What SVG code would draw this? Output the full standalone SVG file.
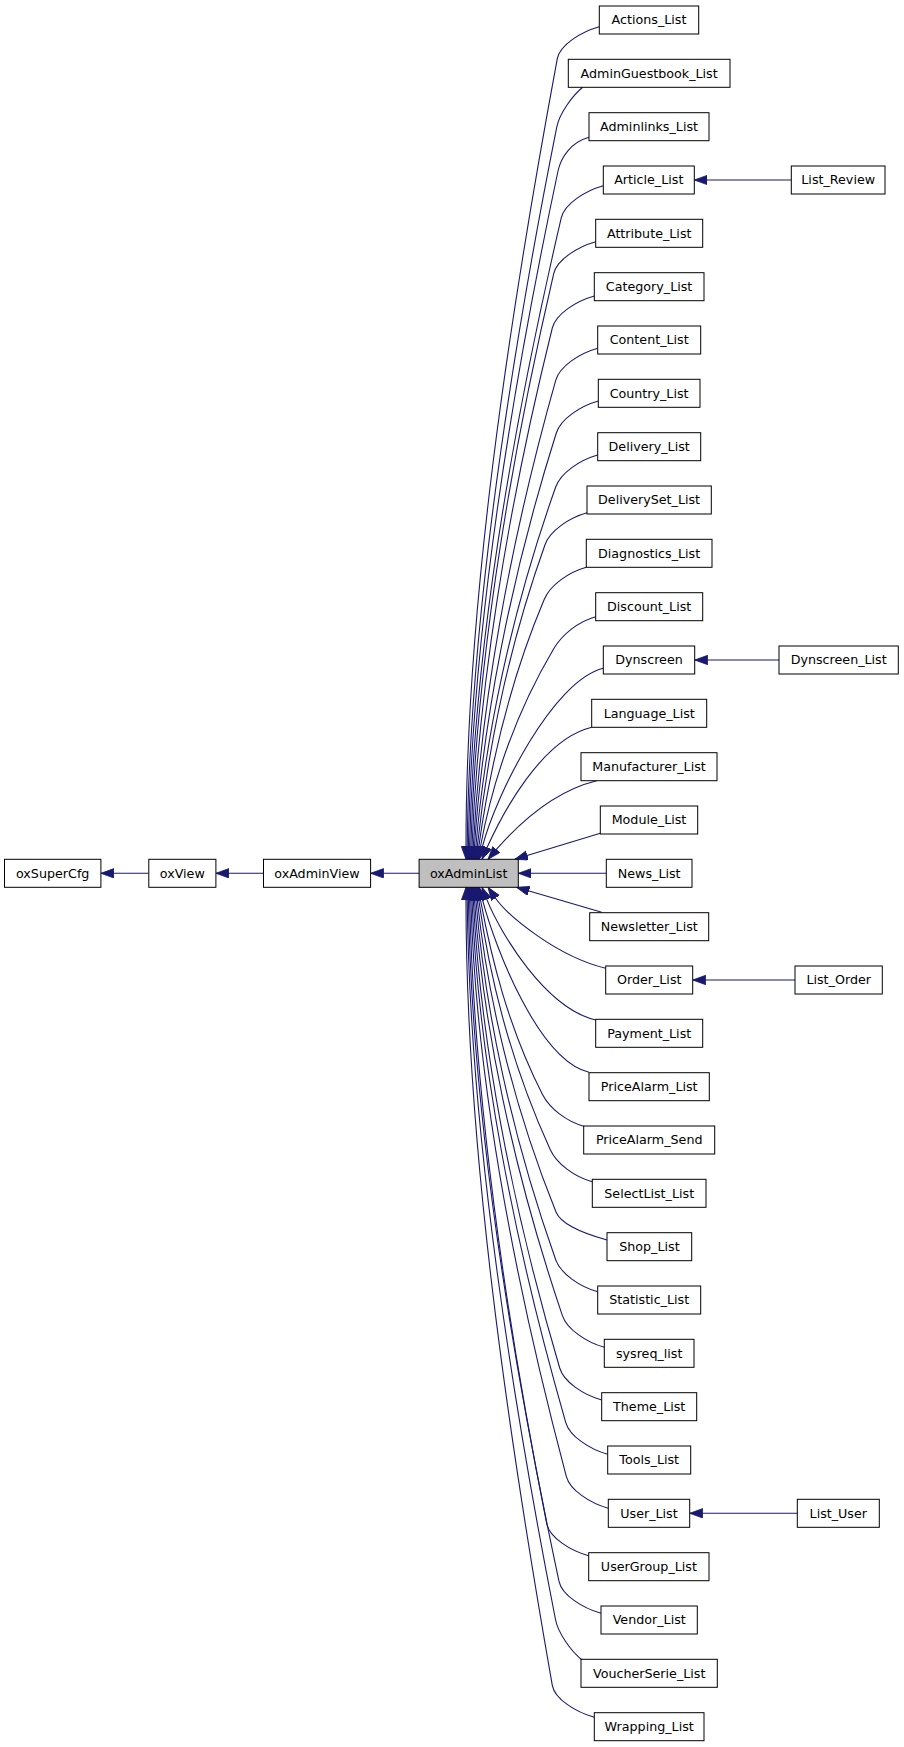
<svg xmlns="http://www.w3.org/2000/svg" width="904" height="1747" viewBox="0 0 904 1747">
<style>
.n rect{fill:#fff;stroke:#000;stroke-width:1}
#oxAdminList rect{fill:#bfbfbf}
.n text{font-family:"DejaVu Sans","Liberation Sans",sans-serif;font-size:12.7px;text-anchor:middle;fill:#000}
.e path{fill:none;stroke:#191970;stroke-width:1.1;marker-end:url(#ah)}
</style>
<defs>
<marker id="ah" markerUnits="userSpaceOnUse" markerWidth="14" markerHeight="11" refX="13" refY="4.7" orient="auto">
<path d="M0,0 L13,4.7 L0,9.4 z" fill="#191970" stroke="#191970" stroke-width="0.8"/>
</marker>
</defs>
<rect width="904" height="1747" fill="#fff"/>
<g id="edges" class="e">
<path d="M148.8,873.3 L100.9,873.3"/>
<path d="M263.5,873.3 L215.9,873.3"/>
<path d="M419.1,873.3 L370.6,873.3"/>
<path d="M791.3,180 L694.3,180"/>
<path d="M779,660 L694.7,660"/>
<path d="M795,980 L692.7,980"/>
<path d="M797.3,1513.3 L689.7,1513.3"/>
<path d="M599.3,26.7 C581.3,31.7 559.9,44.7 557.3,58.7 C506.2,334.4 466,610 466,846.3 L466,859.3"/>
<path d="M582.7,87.3 C572.7,95.3 559.5,113.3 556.7,127.3 C506.6,379 469.4,630.6 467.2,846.3 L467.1,859.3"/>
<path d="M589,137.3 C571,142.3 561,157 558,171 C507.9,407.4 471.6,643.7 468.4,846.3 L468.2,859.3"/>
<path d="M603.3,185.7 C585.3,190.7 564.6,203.7 561.3,217.7 C510,437.7 473.7,657.7 469.6,846.3 L469.3,859.3"/>
<path d="M595.7,241.7 C577.7,246.7 556.9,259.7 553.7,273.7 C507.3,474.1 476,674.5 470.8,846.3 L470.4,859.3"/>
<path d="M594.3,296 C576.3,301 555.8,314 552.3,328 C507.3,509.4 478.2,690.8 472,846.3 L471.5,859.3"/>
<path d="M597.7,348.3 C579.7,353.3 559.7,366.3 555.7,380.3 C509.6,543.4 480.5,706.7 473.3,846.3 L472.6,859.3"/>
<path d="M598.3,401 C580.3,406 560.7,419 556.3,433 C510.5,577.7 482.6,722.6 474.5,846.3 L473.7,859.3"/>
<path d="M597.7,455 C579.7,460 560.7,473 555.7,487 C511,612.8 484.9,738.9 475.9,846.3 L474.8,859.3"/>
<path d="M587,512.7 C569,517.7 550,530.7 545,544.7 C507.1,650.3 487.1,756.4 477.3,846.4 L475.9,859.3"/>
<path d="M586.3,567.3 C568.3,572.3 550.2,585.3 544.3,599.3 C507.6,685.8 489.2,773 478.8,846.4 L477,859.3"/>
<path d="M595.7,616.7 C577.7,621.7 562,634.7 553.7,648.7 C512.7,717.9 491.3,788.2 480.5,846.5 L478.1,859.3"/>
<path d="M603.3,668.3 C553.3,680.3 495.6,794.9 482.4,846.7 L479.2,859.3"/>
<path d="M591.7,727.3 C541.3,739.3 502.1,814.3 487.3,847.1 L482,859.3"/>
<path d="M596.7,780.7 C547.7,792.7 509.8,834.1 496.6,849.2 L488,859.3"/>
<path d="M600.3,833.3 L514.8,859.3"/>
<path d="M606.3,873.3 L518.3,873.3"/>
<path d="M601.7,912.3 L516.4,887.3"/>
<path d="M605.7,968.3 C556.3,956.3 507.4,915.3 495.4,898 L488,887.3"/>
<path d="M595.7,1020 C545.3,1008 500.2,933 486.8,899.4 L482,887.3"/>
<path d="M589,1072.3 C539,1060.3 495.8,949.9 482.5,899.9 L479.2,887.3"/>
<path d="M584.5,1126.5 C566.5,1121.5 549.6,1108.5 542.5,1094.5 C507.8,1026.5 491.3,957.4 480.5,900.1 L478.1,887.3"/>
<path d="M592.3,1181.7 C574.3,1176.7 556.7,1163.7 550.3,1149.7 C510.3,1062.4 489.2,974.4 478.8,900.2 L477,887.3"/>
<path d="M607,1240 C589,1235 561.7,1226 556,1212 C512,1103 487,993 477.3,900.2 L475.9,887.3"/>
<path d="M597.7,1291.7 C579.7,1286.7 560.7,1273.7 555.7,1259.7 C511,1133.9 484.8,1007.7 475.9,900.3 L474.8,887.3"/>
<path d="M604.3,1347.3 C586.3,1342.3 567,1329.3 562.3,1315.3 C513.1,1170 482.6,1024.5 474.5,900.3 L473.7,887.3"/>
<path d="M601.7,1400 C583.7,1395 563.8,1382 559.7,1368 C511.3,1204.3 480.4,1040.4 473.3,900.3 L472.6,887.3"/>
<path d="M607.7,1454.3 C589.7,1449.3 569.7,1436.3 565.7,1422.3 C513.2,1239.6 478.2,1056.8 472,900.3 L471.5,887.3"/>
<path d="M608.3,1508.3 C590.3,1503.3 570,1490.3 566.3,1476.3 C512.8,1274.7 475.9,1073 470.8,900.3 L470.4,887.3"/>
<path d="M588.7,1555.7 C570.7,1550.7 549.5,1537.7 546.7,1523.7 C503.5,1305.5 473.9,1087.3 469.6,900.3 L469.3,887.3"/>
<path d="M601,1613.3 C583,1608.3 562,1595.3 559,1581.3 C508.2,1342.9 471.5,1104.6 468.4,900.3 L468.2,887.3"/>
<path d="M581.5,1659.5 C571.5,1651.5 558.2,1633.5 555.5,1619.5 C506.1,1367.8 469.4,1116.1 467.2,900.3 L467.1,887.3"/>
<path d="M594.3,1717.3 C576.3,1712.3 554.8,1699.3 552.3,1685.3 C504,1410.5 466,1135.8 466,900.3 L466,887.3"/>
</g>
<g id="oxSuperCfg" class="n"><rect x="4.5" y="859.3" width="96.4" height="28"/><text x="52.7" y="877.6">oxSuperCfg</text></g>
<g id="oxView" class="n"><rect x="148.8" y="859.3" width="67.1" height="28"/><text x="182.3" y="877.6">oxView</text></g>
<g id="oxAdminView" class="n"><rect x="263.5" y="859.3" width="107.1" height="28"/><text x="317" y="877.6">oxAdminView</text></g>
<g id="oxAdminList" class="n"><rect x="419.1" y="859.3" width="99.2" height="28"/><text x="468.7" y="877.6">oxAdminList</text></g>
<g id="Actions_List" class="n"><rect x="599.3" y="6" width="99.4" height="28"/><text x="649" y="24.3">Actions_List</text></g>
<g id="AdminGuestbook_List" class="n"><rect x="568.3" y="59.3" width="161.7" height="28"/><text x="649.1" y="77.6">AdminGuestbook_List</text></g>
<g id="Adminlinks_List" class="n"><rect x="589" y="112.7" width="120" height="28"/><text x="649" y="131">Adminlinks_List</text></g>
<g id="Article_List" class="n"><rect x="603.3" y="166" width="91" height="28"/><text x="648.8" y="184.3">Article_List</text></g>
<g id="Attribute_List" class="n"><rect x="595.7" y="219.3" width="107" height="28"/><text x="649.2" y="237.6">Attribute_List</text></g>
<g id="Category_List" class="n"><rect x="594.3" y="272.7" width="109.7" height="28"/><text x="649.1" y="291">Category_List</text></g>
<g id="Content_List" class="n"><rect x="597.7" y="326" width="103" height="28"/><text x="649.2" y="344.3">Content_List</text></g>
<g id="Country_List" class="n"><rect x="598.3" y="379.3" width="101.7" height="28"/><text x="649.1" y="397.6">Country_List</text></g>
<g id="Delivery_List" class="n"><rect x="597.7" y="432.7" width="103" height="28"/><text x="649.2" y="451">Delivery_List</text></g>
<g id="DeliverySet_List" class="n"><rect x="587" y="486" width="124.3" height="28"/><text x="649.1" y="504.3">DeliverySet_List</text></g>
<g id="Diagnostics_List" class="n"><rect x="586.3" y="539.3" width="125.7" height="28"/><text x="649.1" y="557.6">Diagnostics_List</text></g>
<g id="Discount_List" class="n"><rect x="595.7" y="592.7" width="107" height="28"/><text x="649.2" y="611">Discount_List</text></g>
<g id="Dynscreen" class="n"><rect x="603.3" y="646" width="91.4" height="28"/><text x="649" y="664.3">Dynscreen</text></g>
<g id="Language_List" class="n"><rect x="591.7" y="699.3" width="115" height="28"/><text x="649.2" y="717.6">Language_List</text></g>
<g id="Manufacturer_List" class="n"><rect x="581" y="752.7" width="136" height="28"/><text x="649" y="771">Manufacturer_List</text></g>
<g id="Module_List" class="n"><rect x="600.3" y="806" width="97.4" height="28"/><text x="649" y="824.3">Module_List</text></g>
<g id="News_List" class="n"><rect x="606.3" y="859.3" width="85.7" height="28"/><text x="649.2" y="877.6">News_List</text></g>
<g id="Newsletter_List" class="n"><rect x="589.7" y="912.7" width="119" height="28"/><text x="649.2" y="931">Newsletter_List</text></g>
<g id="Order_List" class="n"><rect x="605.7" y="966" width="87" height="28"/><text x="649.2" y="984.3">Order_List</text></g>
<g id="Payment_List" class="n"><rect x="595.7" y="1019.3" width="107" height="28"/><text x="649.2" y="1037.6">Payment_List</text></g>
<g id="PriceAlarm_List" class="n"><rect x="589" y="1072.7" width="120.3" height="28"/><text x="649.2" y="1091">PriceAlarm_List</text></g>
<g id="PriceAlarm_Send" class="n"><rect x="583.7" y="1126" width="131" height="28"/><text x="649.2" y="1144.3">PriceAlarm_Send</text></g>
<g id="SelectList_List" class="n"><rect x="592.3" y="1179.3" width="113.7" height="28"/><text x="649.2" y="1197.6">SelectList_List</text></g>
<g id="Shop_List" class="n"><rect x="607" y="1232.7" width="84.7" height="28"/><text x="649.4" y="1251">Shop_List</text></g>
<g id="Statistic_List" class="n"><rect x="597.7" y="1286" width="103" height="28"/><text x="649.2" y="1304.3">Statistic_List</text></g>
<g id="sysreq_list" class="n"><rect x="604.3" y="1339.3" width="89.7" height="28"/><text x="649.2" y="1357.6">sysreq_list</text></g>
<g id="Theme_List" class="n"><rect x="601.7" y="1392.7" width="95" height="28"/><text x="649.2" y="1411">Theme_List</text></g>
<g id="Tools_List" class="n"><rect x="607.7" y="1446" width="83" height="28"/><text x="649.2" y="1464.3">Tools_List</text></g>
<g id="User_List" class="n"><rect x="608.3" y="1499.3" width="81.4" height="28"/><text x="649" y="1517.6">User_List</text></g>
<g id="UserGroup_List" class="n"><rect x="588.7" y="1552.7" width="120.3" height="28"/><text x="648.9" y="1571">UserGroup_List</text></g>
<g id="Vendor_List" class="n"><rect x="601" y="1606" width="96.3" height="28"/><text x="649.2" y="1624.3">Vendor_List</text></g>
<g id="VoucherSerie_List" class="n"><rect x="581" y="1659.3" width="136.3" height="28"/><text x="649.2" y="1677.6">VoucherSerie_List</text></g>
<g id="Wrapping_List" class="n"><rect x="594.3" y="1712.7" width="109.7" height="28"/><text x="649.2" y="1731">Wrapping_List</text></g>
<g id="List_Review" class="n"><rect x="791.3" y="166" width="93.7" height="28"/><text x="838.2" y="184.3">List_Review</text></g>
<g id="Dynscreen_List" class="n"><rect x="779" y="646" width="119.3" height="28"/><text x="838.7" y="664.3">Dynscreen_List</text></g>
<g id="List_Order" class="n"><rect x="795" y="966" width="87.3" height="28"/><text x="838.7" y="984.3">List_Order</text></g>
<g id="List_User" class="n"><rect x="797.3" y="1499.3" width="82" height="28"/><text x="838.3" y="1517.6">List_User</text></g>
</svg>
